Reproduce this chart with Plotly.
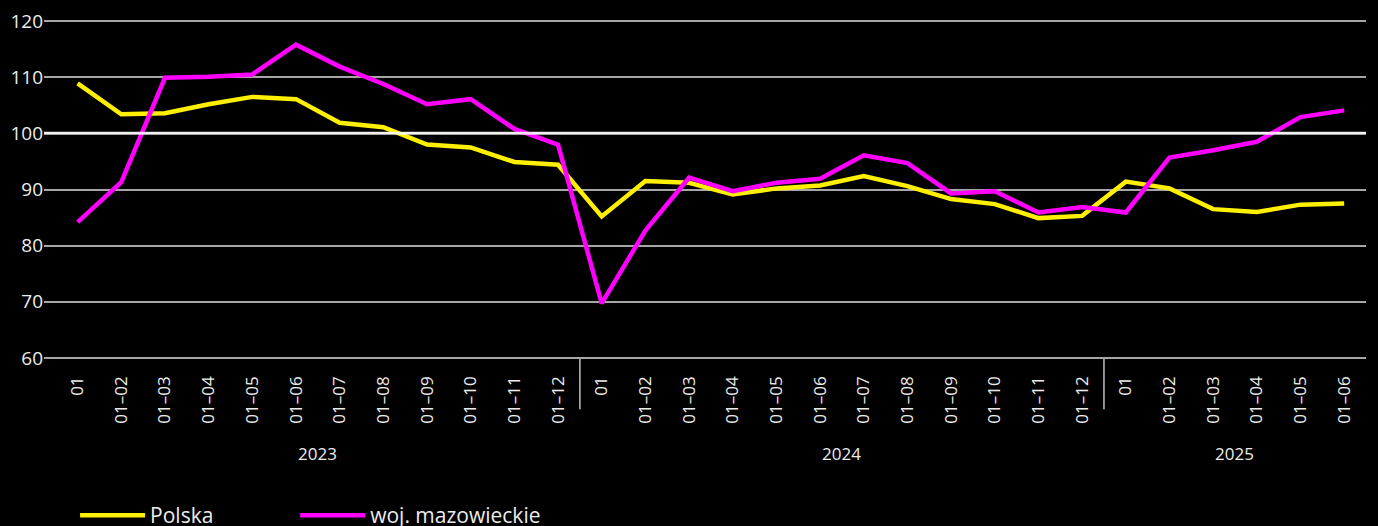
import plotly.graph_objects as go

year_names = ["2023", "2024", "2025"]
year_lengths = [12, 12, 6]
month_labels = ["01", "01–02", "01–03", "01–04", "01–05", "01–06",
                "01–07", "01–08", "01–09", "01–10", "01–11", "01–12"]

years = [y for y, n in zip(year_names, year_lengths) for _ in range(n)]
months = [m for n in year_lengths for m in month_labels[:n]]
categories = [f"{y} {m}" for y, m in zip(years, months)]

polska = [108.9, 103.4, 103.6, 105.2, 106.5, 106.1, 101.9, 101.1, 98.0, 97.5, 94.9, 94.4,
          85.2, 91.5, 91.2, 89.1, 90.2, 90.7, 92.4, 90.6, 88.3, 87.4, 84.9, 85.3,
          91.4, 90.2, 86.5, 86.0, 87.3, 87.5]
mazowieckie = [84.2, 91.3, 109.9, 110.1, 110.5, 115.8, 111.9, 108.8, 105.2, 106.1, 100.8, 98.0,
               69.7, 82.7, 92.1, 89.7, 91.2, 91.9, 96.1, 94.7, 89.3, 89.7, 85.9, 86.9,
               85.9, 95.7, 97.0, 98.5, 102.9, 104.1]

FONT = "Open Sans"
TXT = "#ececec"

fig = go.Figure()
fig.add_trace(go.Scatter(x=categories, y=polska, name="Polska", mode="lines",
                         line=dict(color="#ffef00", width=4.5), legend="legend"))
fig.add_trace(go.Scatter(x=categories, y=mazowieckie, name="woj. mazowieckie", mode="lines",
                         line=dict(color="#ff00ff", width=4.5), legend="legend2"))

# reference line at 100
fig.add_shape(type="line", xref="paper", x0=0, x1=1, yref="y", y0=100, y1=100,
              line=dict(color="#ffffff", width=3), layer="above", opacity=0.85)

# year group dividers and labels
start = 0
for i, (yn, n) in enumerate(zip(year_names, year_lengths)):
    if i > 0:
        fig.add_shape(type="line", xref="x", x0=start - 0.5, x1=start - 0.5,
                      yref="paper", y0=0, y1=-0.148,
                      line=dict(color="#bfbfbf", width=1.5))
    fig.add_annotation(x=start + (n - 1) / 2, xref="x", y=-0.279, yref="paper",
                       text=yn, showarrow=False, yanchor="middle",
                       font=dict(size=17, color=TXT, family=FONT))
    start += n

legend_common = dict(orientation="h", yanchor="middle", y=-0.462, xanchor="left",
                     font=dict(size=21, color=TXT, family=FONT), itemwidth=65,
                     bgcolor="rgba(0,0,0,0)")

fig.update_layout(
    width=1378, height=526,
    paper_bgcolor="#000000", plot_bgcolor="#000000",
    margin=dict(l=44, r=12, t=20, b=167, autoexpand=False),
    font=dict(family=FONT, color=TXT, size=16),
    showlegend=True,
    legend=dict(x=0.0235, **legend_common),
    legend2=dict(x=0.190, **legend_common),
    xaxis=dict(type="category", tickangle=-90, showgrid=False, automargin=False,
               tickmode="array", tickvals=categories, ticktext=months,
               tickfont=dict(size=17, color=TXT, family=FONT),
               range=[-0.77, 29.5], showline=False, ticks="", ticklabelstandoff=13),
    yaxis=dict(range=[59.8, 120.2], tickvals=[60, 70, 80, 90, 100, 110, 120],
               showgrid=True, gridcolor="#a6a6a6", gridwidth=2, automargin=False,
               zeroline=False, showline=False, ticks="",
               tickfont=dict(size=19, color=TXT, family=FONT)),
)

fig.write_html("out.html", config={"displayModeBar": False},
               post_script="document.body.style.margin='0';")
